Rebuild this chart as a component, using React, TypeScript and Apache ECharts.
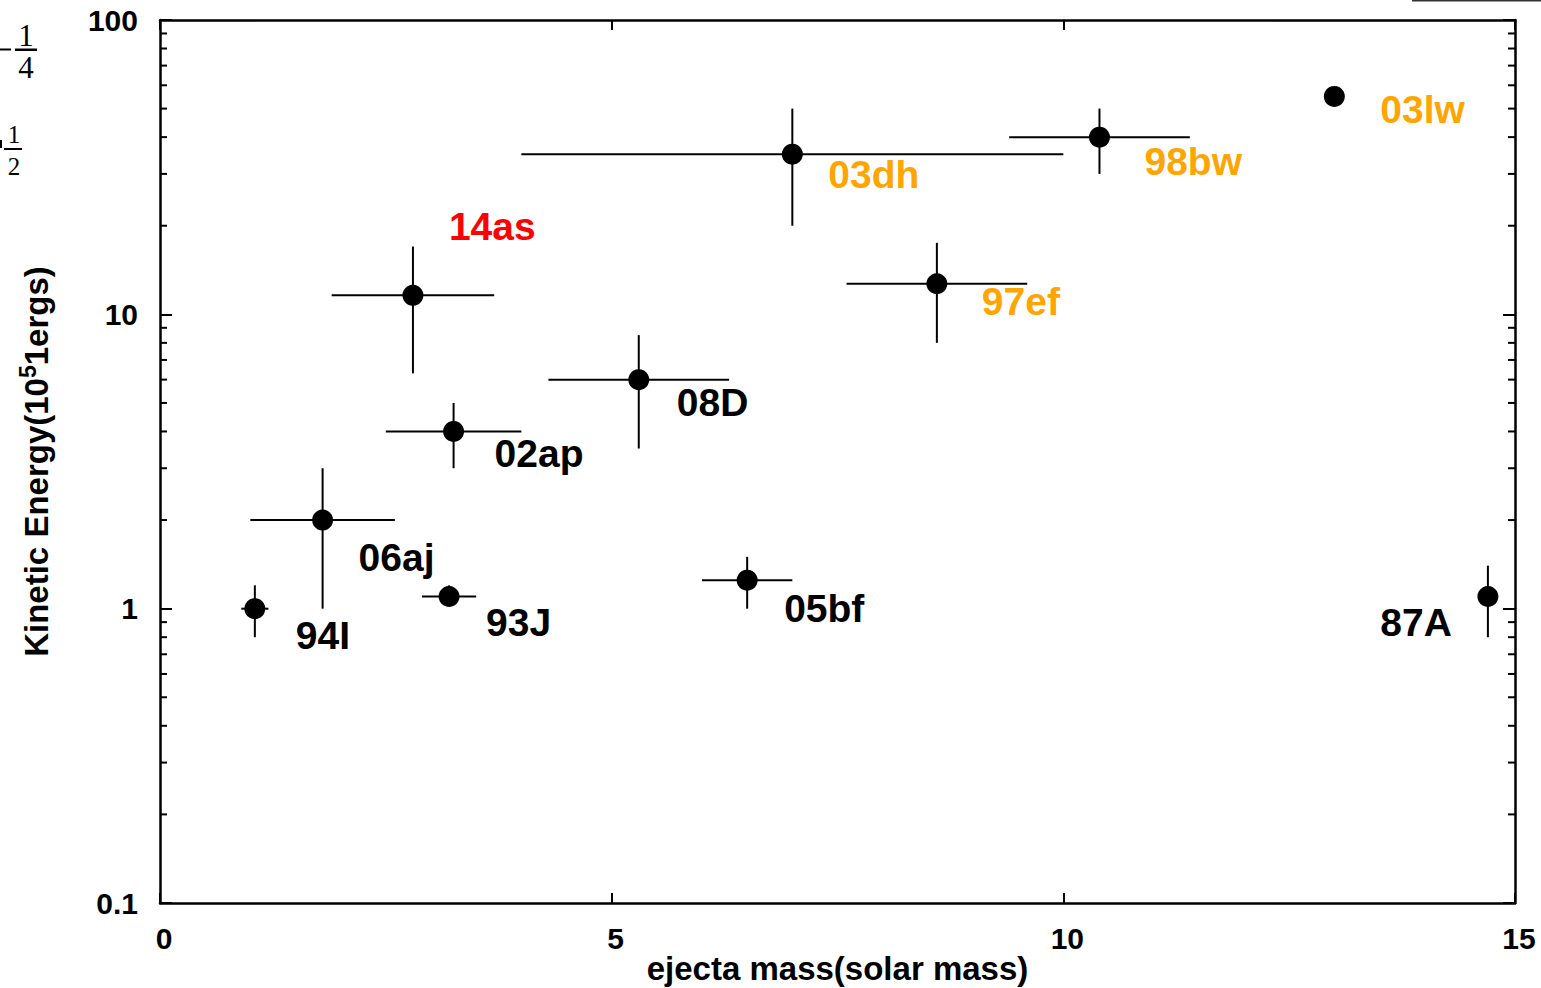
import React, { useEffect, useRef } from "react";
import * as echarts from "echarts";

// ---- data ----
const names = ["94I", "06aj", "93J", "02ap", "14as", "08D", "05bf", "03dh", "97ef", "98bw", "03lw", "87A"];
const mass = [1.05, 1.8, 3.2, 3.25, 2.8, 5.3, 6.5, 7.0, 8.6, 10.4, 13.0, 14.7];
const energy = [1.0, 2.0, 1.1, 4.0, 11.6, 6.0, 1.25, 35, 12.7, 40, 55, 1.1];
const massLow = [0.9, 1.0, 2.9, 2.5, 1.9, 4.3, 6.0, 4.0, 7.6, 9.4, 13.0, 14.7];
const massHigh = [1.2, 2.6, 3.5, 4.0, 3.7, 6.3, 7.0, 10.0, 9.6, 11.4, 13.0, 14.7];
const energyLow = [0.8, 1.0, 1.03, 3.0, 6.3, 3.5, 1.0, 20, 8.0, 30, 51, 0.8];
const energyHigh = [1.2, 3.0, 1.2, 5.0, 17, 8.5, 1.5, 50, 17.5, 50, 58, 1.4];
const labelGroup = ["black", "black", "black", "black", "red", "black", "black", "orange", "orange", "orange", "orange", "black"];
const minorTickValues = [0.2, 0.3, 0.4, 0.5, 0.6, 0.7, 0.8, 0.9, 2, 3, 4, 5, 6, 7, 8, 9, 20, 30, 40, 50, 60, 70, 80, 90];
const xMin = 0;
const xMax = 15;
const xStep = 5;
const yMin = 0.1;
const yMax = 100;

// ---- styling (label placement relative to each point, px) ----
const labelOffsets: [number, number][] = [
  [41, 27], [36, 37], [37, 26], [41, 22], [36, -69], [38, 23],
  [37, 28], [36, 20], [45, 18], [45, 24], [46, 13], [-36, 26],
];
const colorMap: Record<string, string> = { black: "#000000", red: "#ff0000", orange: "#ffa500" };
const FONT = "'Liberation Sans', Arial, Helvetica, sans-serif";
const SERIF = "'Liberation Serif', 'DejaVu Serif', serif";

export default function App() {
  const ref = useRef<HTMLDivElement>(null);

  useEffect(() => {
    if (!ref.current) return;
    const chart = echarts.init(ref.current, undefined, { renderer: "svg" });

    const errData = names.map((_, i) => [mass[i], energy[i], massLow[i], massHigh[i], energyLow[i], energyHigh[i]]);
    const pointData = names.map((n, i) => {
      const [dx, dy] = labelOffsets[i];
      return {
        name: n,
        value: [mass[i], energy[i]],
        label: {
          show: true,
          position: "inside",
          align: dx < 0 ? "right" : "left",
          verticalAlign: "middle",
          offset: [dx, dy],
          color: colorMap[labelGroup[i]],
        },
      };
    });

    const axisLine = { show: true, onZero: false, lineStyle: { color: "#000", width: 2.5 } };

    chart.setOption({
      animation: false,
      backgroundColor: "#ffffff",
      grid: { left: 160, right: 26, top: 20, bottom: 85, containLabel: false, outerBoundsMode: "none" },
      xAxis: [
        {
          type: "value",
          min: xMin,
          max: xMax,
          interval: xStep,
          position: "bottom",
          axisLine,
          axisTick: { show: true, inside: true, length: 10, lineStyle: { color: "#000", width: 2 } },
          axisLabel: {
            fontFamily: FONT,
            fontWeight: "bold",
            fontSize: 30,
            color: "#000",
            margin: 20,
            padding: [0, 0, 0, 8],
          },
          splitLine: { show: false },
          name: "ejecta mass(solar mass)",
          nameLocation: "middle",
          nameGap: 47,
          nameMoveOverlap: false,
          nameTextStyle: { fontFamily: FONT, fontWeight: "bold", fontSize: 33, lineHeight: 36, color: "#000" },
        },
        {
          type: "value",
          min: xMin,
          max: xMax,
          interval: xStep,
          position: "top",
          axisLine,
          axisTick: { show: true, inside: true, length: 10, lineStyle: { color: "#000", width: 2 } },
          axisLabel: { show: false },
          splitLine: { show: false },
        },
      ],
      yAxis: [
        {
          type: "log",
          logBase: 10,
          min: yMin,
          max: yMax,
          position: "left",
          axisLine,
          axisTick: { show: true, inside: true, length: 12, lineStyle: { color: "#000", width: 2 } },
          axisLabel: {
            fontFamily: FONT,
            fontWeight: "bold",
            fontSize: 30,
            color: "#000",
            margin: 22,
            formatter: (v: number) => String(v),
          },
          splitLine: { show: false },
          name: "{a|Kinetic Energy(10}{s|5}{a|1ergs)}",
          nameLocation: "middle",
          nameGap: 104,
          nameMoveOverlap: false,
          nameTextStyle: {
            fontFamily: FONT,
            fontWeight: "bold",
            fontSize: 33,
            color: "#000",
            rich: {
              a: { fontFamily: FONT, fontWeight: "bold", fontSize: 33, color: "#000", lineHeight: 40 },
              s: { fontFamily: FONT, fontWeight: "bold", fontSize: 23, color: "#000", lineHeight: 40, verticalAlign: "top" },
            },
          },
        },
        {
          type: "log",
          logBase: 10,
          min: yMin,
          max: yMax,
          position: "right",
          axisLine,
          axisTick: { show: true, inside: true, length: 12, lineStyle: { color: "#000", width: 2 } },
          axisLabel: { show: false },
          splitLine: { show: false },
        },
      ],
      series: [
        {
          type: "custom",
          name: "minorTicks",
          xAxisIndex: 0,
          yAxisIndex: 0,
          silent: true,
          clip: false,
          data: minorTickValues.map((v) => [xMin, v]),
          renderItem: (params: any, api: any) => {
            const v = api.value(1);
            const pL = api.coord([xMin, v]);
            const pR = api.coord([xMax, v]);
            const style = { stroke: "#000", lineWidth: 2 };
            return {
              type: "group",
              children: [
                { type: "line", shape: { x1: pL[0], y1: pL[1], x2: pL[0] + 7, y2: pL[1] }, style },
                { type: "line", shape: { x1: pR[0] - 7, y1: pR[1], x2: pR[0], y2: pR[1] }, style },
              ],
            };
          },
        },
        {
          type: "custom",
          name: "errors",
          xAxisIndex: 0,
          yAxisIndex: 0,
          silent: true,
          clip: false,
          data: errData,
          encode: { x: 0, y: 1 },
          renderItem: (params: any, api: any) => {
            const x = api.value(0);
            const y = api.value(1);
            const xl = api.coord([api.value(2), y]);
            const xh = api.coord([api.value(3), y]);
            const yl = api.coord([x, api.value(4)]);
            const yh = api.coord([x, api.value(5)]);
            const style = { stroke: "#000", lineWidth: 2 };
            return {
              type: "group",
              children: [
                { type: "line", shape: { x1: xl[0], y1: xl[1], x2: xh[0], y2: xh[1] }, style },
                { type: "line", shape: { x1: yl[0], y1: yl[1], x2: yh[0], y2: yh[1] }, style },
              ],
            };
          },
        },
        {
          type: "scatter",
          name: "SNe",
          xAxisIndex: 0,
          yAxisIndex: 0,
          symbol: "circle",
          symbolSize: 21,
          itemStyle: { color: "#000", opacity: 1 },
          label: {
            show: true,
            formatter: (p: any) => p.name,
            fontFamily: FONT,
            fontWeight: "bold",
            fontSize: 39,
          },
          data: pointData,
        },
      ],
      graphic: [
        { type: "rect", shape: { x: 0, y: 48.5, width: 11, height: 2 }, style: { fill: "#000" } },
        { type: "rect", shape: { x: 15, y: 48.5, width: 22, height: 2.5 }, style: { fill: "#000" } },
        { type: "text", x: 26, y: 35, style: { text: "1", font: `31px ${SERIF}`, fill: "#000", align: "center", verticalAlign: "middle", lineHeight: 22 } },
        { type: "text", x: 26, y: 67, style: { text: "4", font: `31px ${SERIF}`, fill: "#000", align: "center", verticalAlign: "middle", lineHeight: 22 } },
        { type: "rect", shape: { x: 0, y: 140, width: 2, height: 8 }, style: { fill: "#000" } },
        { type: "rect", shape: { x: 4, y: 148, width: 18, height: 2 }, style: { fill: "#000" } },
        { type: "text", x: 14, y: 134, style: { text: "1", font: `25px ${SERIF}`, fill: "#000", align: "center", verticalAlign: "middle", lineHeight: 18 } },
        { type: "text", x: 14, y: 166, style: { text: "2", font: `25px ${SERIF}`, fill: "#000", align: "center", verticalAlign: "middle", lineHeight: 18 } },
        { type: "line", shape: { x1: 1412, y1: 0.75, x2: 1541, y2: 0.75 }, style: { stroke: "#333", lineWidth: 1.5 } },
      ],
    });

    return () => chart.dispose();
  }, []);

  return (
    <div
      ref={ref}
      style={{ position: "fixed", left: 0, top: 0, width: 1541, height: 988, background: "#fff" }}
    />
  );
}
